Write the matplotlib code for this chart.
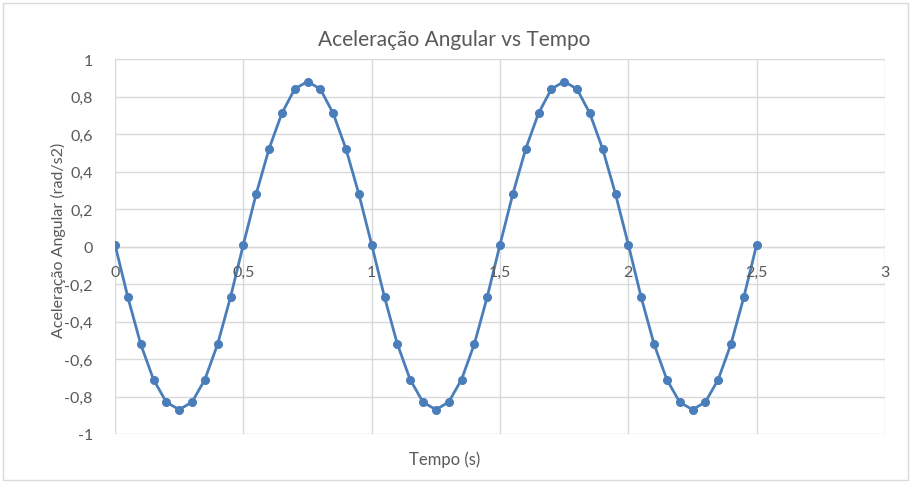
import matplotlib.pyplot as plt
from matplotlib.patches import Rectangle
from matplotlib.ticker import FuncFormatter

plt.rcParams['font.family'] = ['Lato', 'DejaVu Sans']

tempo = [0, 0.05, 0.1, 0.15, 0.2, 0.25, 0.3, 0.35, 0.4, 0.45,
         0.5, 0.55, 0.6, 0.65, 0.7, 0.75, 0.8, 0.85, 0.9, 0.95,
         1.0, 1.05, 1.1, 1.15, 1.2, 1.25, 1.3, 1.35, 1.4, 1.45,
         1.5, 1.55, 1.6, 1.65, 1.7, 1.75, 1.8, 1.85, 1.9, 1.95,
         2.0, 2.05, 2.1, 2.15, 2.2, 2.25, 2.3, 2.35, 2.4, 2.45, 2.5]
acel = [0.01, -0.27, -0.52, -0.71, -0.83, -0.87, -0.83, -0.71, -0.52, -0.27,
        0.01, 0.28, 0.52, 0.71, 0.84, 0.88, 0.84, 0.71, 0.52, 0.28,
        0.01, -0.27, -0.52, -0.71, -0.83, -0.87, -0.83, -0.71, -0.52, -0.27,
        0.01, 0.28, 0.52, 0.71, 0.84, 0.88, 0.84, 0.71, 0.52, 0.28,
        0.01, -0.27, -0.52, -0.71, -0.83, -0.87, -0.83, -0.71, -0.52, -0.27,
        0.01]

x_ticks = [0, 0.5, 1, 1.5, 2, 2.5, 3]
y_ticks = [-1, -0.8, -0.6, -0.4, -0.2, 0, 0.2, 0.4, 0.6, 0.8, 1]

W, H = 913, 485
fig = plt.figure(figsize=(W / 100, H / 100), dpi=100)
ax = fig.add_axes([115 / W, 1 - 435 / H, 770 / W, 375 / H])

fig.patches.append(Rectangle((3 / W, 4 / H), 905 / W, 477 / H, transform=fig.transFigure,
                             fill=False, edgecolor='#d9d9d9', linewidth=1))

ax.plot(tempo, acel, color='#4A7EBB', linewidth=2, marker='o', markersize=5.5, zorder=3)

ax.set_xlim(0, 3)
ax.set_ylim(-1, 1)
ax.set_xticks(x_ticks)
ax.set_yticks(y_ticks)
ax.grid(True, color='#d9d9d9', linewidth=1)
ax.set_axisbelow(True)

for s in ['top', 'right', 'left', 'bottom']:
    ax.spines[s].set_visible(False)
ax.axhline(0, color='#d9d9d9', linewidth=1, zorder=1)

fmt = FuncFormatter(lambda v, p: ('%g' % v).replace('.', ','))
ax.xaxis.set_major_formatter(fmt)
ax.yaxis.set_major_formatter(fmt)
ax.tick_params(length=0, labelsize=11.5, colors='#595959')
ax.tick_params(axis='y', pad=16)

# x labels sit just under the zero line, like Excel
ax.set_xticklabels([])
for t in x_ticks:
    ax.text(t, -0.1, fmt(t, None), ha='center', va='top', fontsize=11.5, color='#595959')

fig.text(454 / W, 1 - 40 / H, 'Aceleração Angular vs Tempo', ha='center', va='center',
         fontsize=15, color='#595959')
fig.text(58 / W, 1 - 240 / H, 'Aceleração Angular (rad/s2)', rotation=90, ha='center',
         va='center', fontsize=11.5, color='#595959')
fig.text(445 / W, 1 - 460 / H, 'Tempo (s)', ha='center', va='center', fontsize=12, color='#595959')

fig.savefig('out.png', dpi=100)
